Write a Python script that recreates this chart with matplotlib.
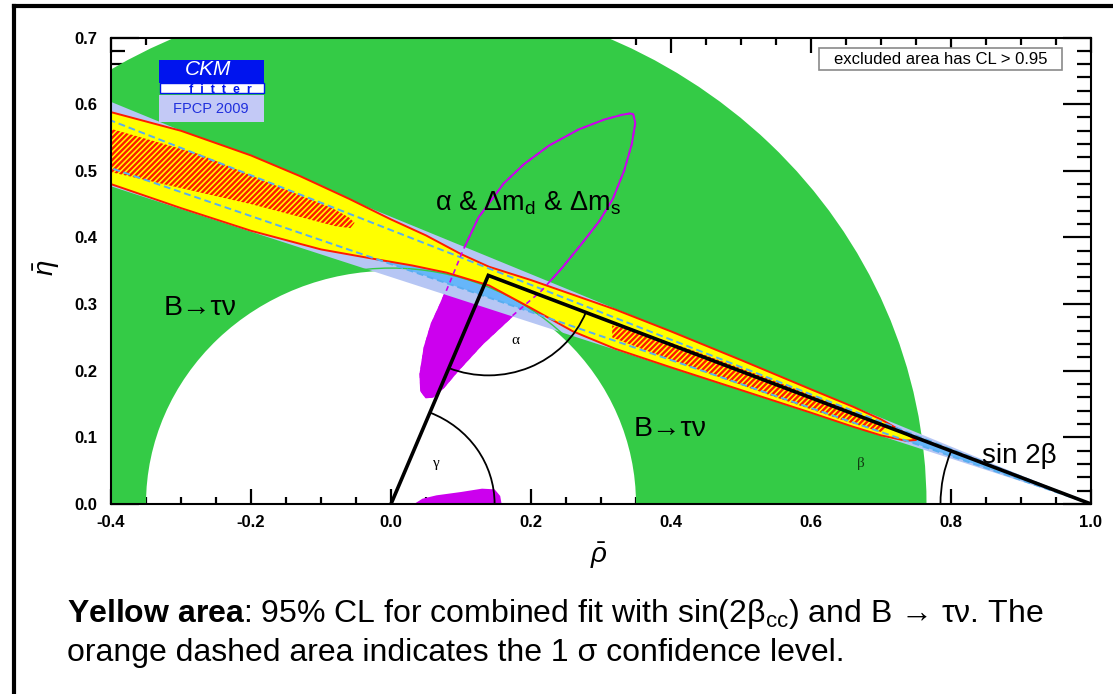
import numpy as np
import matplotlib
matplotlib.use("Agg")
import matplotlib.pyplot as plt
from matplotlib.patches import Polygon, Wedge, Arc, Rectangle
from matplotlib.lines import Line2D

plt.rcParams['font.family'] = ['Liberation Sans', 'DejaVu Sans']
plt.rcParams['mathtext.fontset'] = 'custom'
plt.rcParams['mathtext.rm'] = 'Liberation Sans'
plt.rcParams['mathtext.it'] = 'Liberation Sans:italic'
plt.rcParams['mathtext.bf'] = 'Liberation Sans:bold'
plt.rcParams['hatch.linewidth'] = 1.7

# ---------------- constraints in the (rho-bar, eta-bar) plane ----------------
apex = (0.139, 0.343)                     # fitted apex of the unitarity triangle
triangle_rho = [0.0, apex[0], 1.0]
triangle_eta = [0.0, apex[1], 0.0]

btaunu_r_inner = 0.350                    # B -> tau nu ring (95% CL)
btaunu_r_outer = 0.765

sin2b_slopes_95 = (0.3405, 0.431)         # sin(2beta) band edges, eta = m (1 - rho)
sin2b_slopes_68 = (0.360, 0.411)

# combined fit, 95% CL contour (yellow)
yellow_upper_rho = [-0.42, -0.40, -0.30, -0.20, -0.13, -0.06, 0.00, 0.05, 0.10, 0.14,
                    0.20, 0.26, 0.32, 0.40, 0.50, 0.60, 0.66, 0.70, 0.73, 0.750]
yellow_upper_eta = [0.595, 0.588, 0.560, 0.523, 0.492, 0.458, 0.427, 0.403, 0.375, 0.356,
                    0.336, 0.314, 0.292, 0.259, 0.216, 0.172, 0.146, 0.127, 0.109, 0.096]
yellow_lower_rho = [0.735, 0.70, 0.66, 0.60, 0.50, 0.40, 0.32, 0.26, 0.20, 0.14,
                    0.08, 0.03, -0.02, -0.10, -0.20, -0.30, -0.40, -0.42]
yellow_lower_eta = [0.095, 0.103, 0.116, 0.137, 0.171, 0.205, 0.233, 0.259, 0.294, 0.328,
                    0.347, 0.358, 0.367, 0.382, 0.410, 0.444, 0.480, 0.487]

# combined fit, 1 sigma regions (hatched)
hatch_left_rho = [-0.42, -0.40, -0.274, -0.179, -0.084, -0.060, -0.052,
                  -0.058, -0.080, -0.120, -0.200, -0.300, -0.400, -0.420]
hatch_left_eta = [0.569, 0.563, 0.525, 0.484, 0.444, 0.430, 0.422,
                  0.414, 0.417, 0.428, 0.450, 0.474, 0.498, 0.502]
hatch_right_rho = [0.316, 0.36, 0.43, 0.55, 0.65, 0.695, 0.710,
                   0.700, 0.65, 0.55, 0.43, 0.36, 0.316]
hatch_right_eta = [0.268, 0.256, 0.231, 0.184, 0.143, 0.123, 0.115,
                   0.108, 0.124, 0.160, 0.205, 0.232, 0.250]

# alpha & dm_d & dm_s contour
loop_rho = [0.346, 0.349, 0.344, 0.333, 0.317, 0.298, 0.272, 0.245, 0.215, 0.174,
            0.130, 0.095, 0.075, 0.060, 0.050, 0.043, 0.042, 0.048, 0.058, 0.071,
            0.085, 0.103, 0.125, 0.161, 0.190, 0.226, 0.268, 0.305, 0.330, 0.341]
loop_eta = [0.585, 0.572, 0.540, 0.500, 0.458, 0.425, 0.390, 0.355, 0.320, 0.283,
            0.240, 0.200, 0.175, 0.161, 0.160, 0.170, 0.195, 0.235, 0.270, 0.300,
            0.335, 0.381, 0.430, 0.481, 0.510, 0.538, 0.562, 0.577, 0.584, 0.586]
blob_rho = [0.028, 0.033, 0.045, 0.065, 0.100, 0.130, 0.148, 0.156, 0.158, 0.158]
blob_eta = [-0.010, 0.000, 0.008, 0.013, 0.018, 0.023, 0.022, 0.012, 0.000, -0.010]

# angle arcs (radius in rho units)
arc_alpha_r = 0.150
arc_gamma_r = 0.148
arc_beta_r = 0.215

x_ticks = [-0.4, -0.2, 0.0, 0.2, 0.4, 0.6, 0.8, 1.0]
x_tick_labels = ['-0.4', '-0.2', '0.0', '0.2', '0.4', '0.6', '0.8', '1.0']
y_ticks = [0.0, 0.1, 0.2, 0.3, 0.4, 0.5, 0.6, 0.7]
y_tick_labels = ['0.0', '0.1', '0.2', '0.3', '0.4', '0.5', '0.6', '0.7']

GREEN = '#34cb46'
YELLOW = '#ffff00'
RED = '#ff1a00'
LAVENDER = '#b6c6f4'
MIDBLUE = '#66b6fa'
DASHBLUE = '#58aef0'
MAGENTA = '#cc00ee'

# ---------------- figure ----------------
W, H = 1113, 694
fig = plt.figure(figsize=(W / 100, H / 100), dpi=100)
ax = fig.add_axes([111 / W, 190 / H, 980 / W, 466.5 / H])
ax.set_xlim(-0.4, 1.0)
ax.set_ylim(0.0, 0.7)

# alpha region filled (only visible inside the inner white disc)
ax.add_patch(Polygon(np.column_stack([loop_rho, loop_eta]), closed=True,
                     facecolor=MAGENTA, edgecolor='none', zorder=1))

# B -> tau nu ring
ax.add_patch(Wedge((0, 0), btaunu_r_outer, 0, 180,
                   width=btaunu_r_outer - btaunu_r_inner,
                   facecolor=GREEN, edgecolor='none', zorder=2))

ax.add_patch(Polygon(np.column_stack([blob_rho, blob_eta]), closed=True,
                     facecolor=MAGENTA, edgecolor='none', zorder=2.5))
ax.add_patch(Polygon(np.column_stack([loop_rho, loop_eta]), closed=True,
                     facecolor='none', edgecolor=MAGENTA, lw=1.4,
                     joinstyle='round', zorder=3))

# sin(2beta) bands
rho_far = -0.6
def band(slopes):
    lo, hi = slopes
    return np.array([[1.0, 0.0],
                     [rho_far, hi * (1 - rho_far)],
                     [rho_far, lo * (1 - rho_far)]])

ax.add_patch(Polygon(band(sin2b_slopes_95), closed=True, facecolor=LAVENDER,
                     edgecolor='none', zorder=4))
ax.add_patch(Polygon(band(sin2b_slopes_68), closed=True, facecolor=MIDBLUE,
                     edgecolor='none', zorder=4.1))
ax.add_patch(Arc((0, 0), 2 * (btaunu_r_inner + 0.004), 2 * (btaunu_r_inner + 0.004),
                 theta1=0, theta2=180, color=GREEN, lw=1.0, zorder=4.5))

# combined fit
yellow = np.column_stack([yellow_upper_rho + yellow_lower_rho,
                          yellow_upper_eta + yellow_lower_eta])
ax.add_patch(Polygon(yellow, closed=True, facecolor=YELLOW, edgecolor=RED,
                     lw=1.4, joinstyle='round', zorder=5))
for hr, he in ((hatch_left_rho, hatch_left_eta), (hatch_right_rho, hatch_right_eta)):
    ax.add_patch(Polygon(np.column_stack([hr, he]), closed=True, facecolor=YELLOW,
                         edgecolor=RED, hatch='//////', lw=0, zorder=6))

# 68% sin(2beta) edges, dashed
for m in sin2b_slopes_68:
    ax.plot([1.0, rho_far], [0.0, m * (1 - rho_far)], color=DASHBLUE, lw=1.4,
            dashes=(3.5, 2.0), zorder=7)
ax.add_patch(Polygon(np.column_stack([loop_rho, loop_eta]), closed=True,
                     facecolor='none', edgecolor=MAGENTA, lw=1.2,
                     linestyle=(0, (3, 2.5)), zorder=7.5))

# unitarity triangle and angles
ax.plot(triangle_rho, triangle_eta, color='black', lw=2.6,
        solid_joinstyle='miter', zorder=9)
ang_right = np.degrees(np.arctan2(-apex[1], 1 - apex[0])) % 360
ang_left = np.degrees(np.arctan2(-apex[1], -apex[0])) % 360
ax.add_patch(Arc(apex, 2 * arc_alpha_r, 2 * arc_alpha_r, theta1=ang_left,
                 theta2=ang_right, color='black', lw=1.3, zorder=9))
ax.add_patch(Arc((0, 0), 2 * arc_gamma_r, 2 * arc_gamma_r, theta1=0,
                 theta2=ang_left - 180, color='black', lw=1.3, zorder=9))
ax.add_patch(Arc((1, 0), 2 * arc_beta_r, 2 * arc_beta_r, theta1=ang_right - 180,
                 theta2=180, color='black', lw=1.3, zorder=9))

serif = ['Liberation Serif', 'DejaVu Serif']
ax.text(0.178, 0.246, 'α', family=serif, fontsize=11, ha='center', va='center', zorder=10)
ax.text(0.065, 0.061, 'γ', family=serif, fontsize=11, ha='center', va='center', zorder=10)
ax.text(0.671, 0.061, 'β', family=serif, fontsize=11, ha='center', va='center',
        color='#123c12', zorder=10)

ax.text(-0.325, 0.283, 'B→τν', fontsize=20.5, ha='left', va='baseline', zorder=10)
ax.text(0.347, 0.102, 'B→τν', fontsize=20.5, ha='left', va='baseline', zorder=10)
ax.text(0.845, 0.0615, 'sin 2β', fontsize=20, ha='left', va='baseline', zorder=10)
ax.text(0.063, 0.441, r'α & Δm$_\mathregular{d}$ & Δm$_\mathregular{s}$',
        fontsize=19.5, ha='left', va='baseline', zorder=10)

# legend-like note
ax.add_patch(Rectangle((0.612, 0.651), 0.346, 0.033, facecolor='white',
                       edgecolor='#8a8a8a', lw=1.2, zorder=11))
ax.text(0.785, 0.6670, 'excluded area has CL > 0.95', fontsize=12,
        ha='center', va='center', zorder=12)

# CKMfitter logo
ax.add_patch(Rectangle((-0.331, 0.631), 0.150, 0.035, facecolor='#0014ee',
                       edgecolor='none', zorder=11))
ax.add_patch(Rectangle((-0.330, 0.616), 0.148, 0.015, facecolor='white',
                       edgecolor='#0014ee', lw=1.0, zorder=11))
ax.add_patch(Rectangle((-0.331, 0.573), 0.150, 0.040, facecolor='#c3c9f6',
                       edgecolor='none', zorder=11))
ax.text(-0.262, 0.6515, 'CKM', color='white', fontsize=15, style='italic',
        ha='center', va='center', zorder=12)
ax.text(-0.244, 0.6210, 'f  i  t  t  e  r', color='#0014ee', fontsize=9,
        fontweight='bold', ha='center', va='center', zorder=12)
ax.text(-0.258, 0.5925, 'FPCP 2009', color='#2030dd', fontsize=10.5,
        ha='center', va='center', zorder=12)

# axes styling
ax.set_xticks(x_ticks)
ax.set_xticklabels(x_tick_labels)
ax.set_yticks(y_ticks)
ax.set_yticklabels(y_tick_labels)
ax.set_xticks(np.arange(-0.4, 1.0001, 0.05), minor=True)
ax.set_yticks(np.arange(0.0, 0.7001, 0.02), minor=True)
ax.tick_params(which='both', direction='in', top=True, right=True, width=1.6,
               colors='black', zorder=12)
ax.tick_params(axis='y', which='major', length=20, pad=10)
ax.tick_params(axis='y', which='minor', length=10)
ax.tick_params(axis='x', which='major', length=10.5, pad=8)
ax.tick_params(axis='x', which='minor', length=5)
for lab in ax.get_xticklabels() + ax.get_yticklabels():
    lab.set_fontweight('bold')
    lab.set_fontsize(12)
for sp in ax.spines.values():
    sp.set_linewidth(1.5)
    sp.set_zorder(13)

fig.text(599 / W, 1 - 556 / H, r'$\bar{\rho}$', fontsize=20, ha='center', va='center')
fig.text(47 / W, 1 - 268 / H, r'$\bar{\eta}$', fontsize=20, rotation=90,
         ha='center', va='center')

# caption
fig.text(67 / W, 1 - 622 / H,
         r'$\mathbf{Yellow\ area}$: 95% CL for combined fit with sin(2β$_\mathregular{cc}$) and B → τν. The',
         fontsize=23, ha='left', va='baseline')
fig.text(67 / W, 1 - 661 / H,
         'orange dashed area indicates the 1 σ confidence level.',
         fontsize=23, ha='left', va='baseline')

# outer frame
fig.add_artist(Line2D([14 / W, 14 / W], [0, 1 - 6 / H], color='black', lw=3,
                      transform=fig.transFigure))
fig.add_artist(Line2D([14 / W, 1], [1 - 6 / H, 1 - 6 / H], color='black', lw=3,
                      transform=fig.transFigure))

fig.savefig('out.png', dpi=100)
